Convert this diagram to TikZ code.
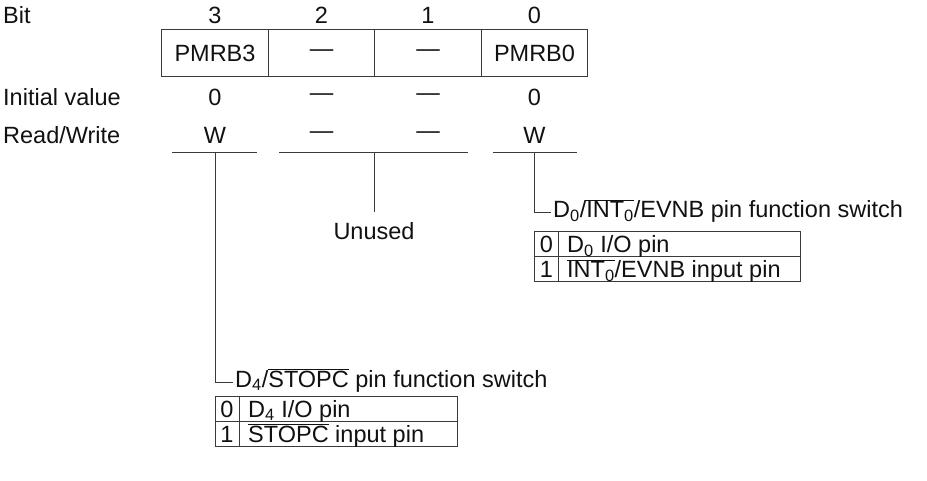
\documentclass[tikz,border=0pt]{standalone}
\usepackage{fontspec}
\setmainfont{Liberation Sans}
\usetikzlibrary{positioning}
\definecolor{Ink}{HTML}{111111}
\definecolor{Wire}{HTML}{3A3A3A}
\newcommand{\ovl}[1]{$\overline{\mbox{#1}}$}

\begin{document}
\begin{tikzpicture}[x=1pt,y=-1pt,font=\fontsize{23.5}{28}\selectfont,
  txt/.style={inner sep=0pt,text=Ink},
  regcell/.style={draw=Wire,line width=1pt,minimum width=106.5pt,minimum height=47pt,inner sep=0pt,text=Ink},
  wire/.style={draw=Wire,line width=1pt}]
  \useasboundingbox (0,0) rectangle (927,481);
  % row captions
  \node[txt,anchor=west] (capbit) at (3,15) {Bit};
  \node[txt,anchor=west] (capinit) at (3,97) {Initial value};
  \node[txt,anchor=west] (caprw) at (3,135) {Read/Write};
  % register
  \foreach \i/\bit/\name/\init/\rw in {0/3/PMRB3/0/W,1/2/—/—/—,2/1/—/—/—,3/0/PMRB0/0/W} {
    \node[regcell] (cell\i) at ({215+106.5*\i},53.5) {\name};
    \node[txt] (bit\i) at ({215+106.5*\i},15) {\bit};
    \node[txt] (init\i) at ({215+106.5*\i},97) {\init};
    \node[txt] (rw\i) at ({215+106.5*\i},135) {\rw};
  }
  % brackets
  \coordinate (k3) at (215,153);
  \coordinate (k21) at (374,153);
  \coordinate (k0) at (534.5,153);
  \draw[wire] ([xshift=-43pt]k3) -- ([xshift=42pt]k3);
  \draw[wire] ([xshift=-95pt]k21) -- ([xshift=94pt]k21);
  \draw[wire] ([xshift=-42pt]k0) -- ([xshift=42pt]k0);
  % unused bits
  \node[txt,anchor=north] (unused) at (374,222) {Unused};
  \draw[wire] (k21) -- ([yshift=10pt]unused.north);
  % bit 0
  \node[txt,anchor=base west] (fn0) at (553,218) {D\textsubscript{0}/\ovl{INT\textsubscript{0}}/EVNB pin function switch};
  \draw[wire] (k0) |- ([xshift=-2pt,yshift=5pt]fn0.base west);
  \draw[wire] (534.5,232) rectangle (800,282);
  \draw[wire] (534.5,257) -- (800,257);
  \draw[wire] (558.5,232) -- (558.5,282);
  \node[txt,anchor=base] (sel0a) at (546.5,253) {0};
  \node[txt,anchor=base west] (sel0b) at (567,253) {D\textsubscript{0} I/O pin};
  \node[txt,anchor=base] (sel1a) at (546.5,278) {1};
  \node[txt,anchor=base west] (sel1b) at (567,278) {\ovl{INT\textsubscript{0}}/EVNB input pin};
  % bit 3
  \node[txt,anchor=base west] (fn3) at (235,387) {D\textsubscript{4}/\ovl{STOPC} pin function switch};
  \draw[wire] (k3) |- ([xshift=-2pt,yshift=5pt]fn3.base west);
  \draw[wire] (215,396) rectangle (457,446);
  \draw[wire] (215,421) -- (457,421);
  \draw[wire] (239,396) -- (239,446);
  \node[txt,anchor=base] (sel2a) at (227,417) {0};
  \node[txt,anchor=base west] (sel2b) at (248,417) {D\textsubscript{4} I/O pin};
  \node[txt,anchor=base] (sel3a) at (227,442) {1};
  \node[txt,anchor=base west] (sel3b) at (248,442) {\ovl{STOPC} input pin};
\end{tikzpicture}
\end{document}
